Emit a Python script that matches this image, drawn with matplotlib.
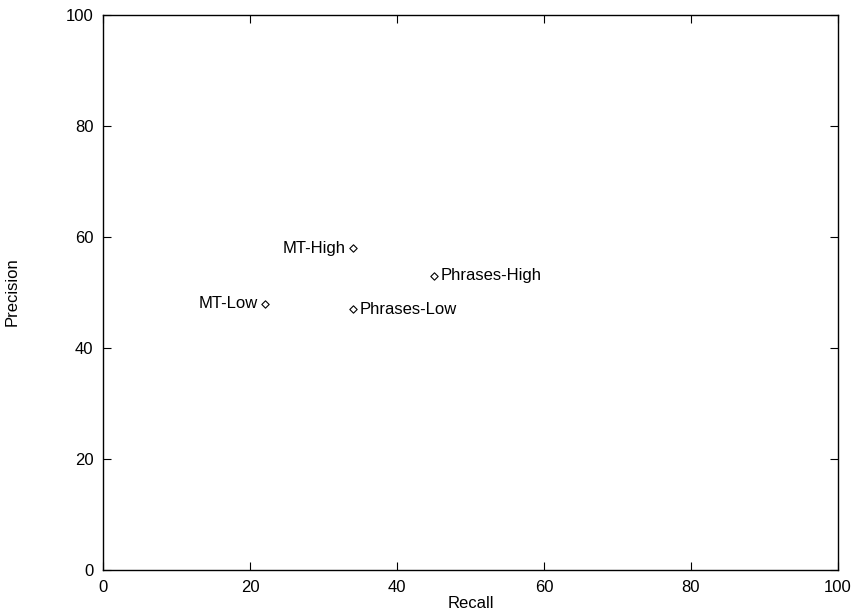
import matplotlib
matplotlib.use("Agg")
import matplotlib.pyplot as plt

plt.rcParams['font.family'] = ['Liberation Sans', 'DejaVu Sans']

# data points
names = ['MT-High', 'MT-Low', 'Phrases-High', 'Phrases-Low']
recall = [34, 22, 45, 34]
precision = [58, 48, 53, 47]
label_side = ['left', 'left', 'right', 'right']

fig = plt.figure(figsize=(8.54, 6.09), dpi=100)
ax = fig.add_axes([103/854, 1-570/609, (838-103)/854, (570-15)/609])

ax.scatter(recall, precision, marker='D', s=14, facecolors='white',
           edgecolors='black', linewidths=0.8, zorder=3)

for n, x, y, side in zip(names, recall, precision, label_side):
    if side == 'left':
        ax.annotate(n, (x, y), xytext=(-5, 0), textcoords='offset points',
                    ha='right', va='center', fontsize=12)
    else:
        ax.annotate(n, (x, y), xytext=(5, 0), textcoords='offset points',
                    ha='left', va='center', fontsize=12)

ax.set_xlim(0, 100)
ax.set_ylim(0, 100)
ax.set_xticks(range(0, 101, 20))
ax.set_yticks(range(0, 101, 20))
ax.tick_params(direction='in', length=6, width=0.8, top=True, right=True,
               labelsize=12, pad=7)
for s in ax.spines.values():
    s.set_linewidth(1.0)

fig.text(471/854, 1-603/609, 'Recall', ha='center', va='center', fontsize=12)
fig.text(12/854, 1-292/609, 'Precision', ha='center', va='center',
         rotation=90, fontsize=12)

fig.savefig('out.png', dpi=100)
